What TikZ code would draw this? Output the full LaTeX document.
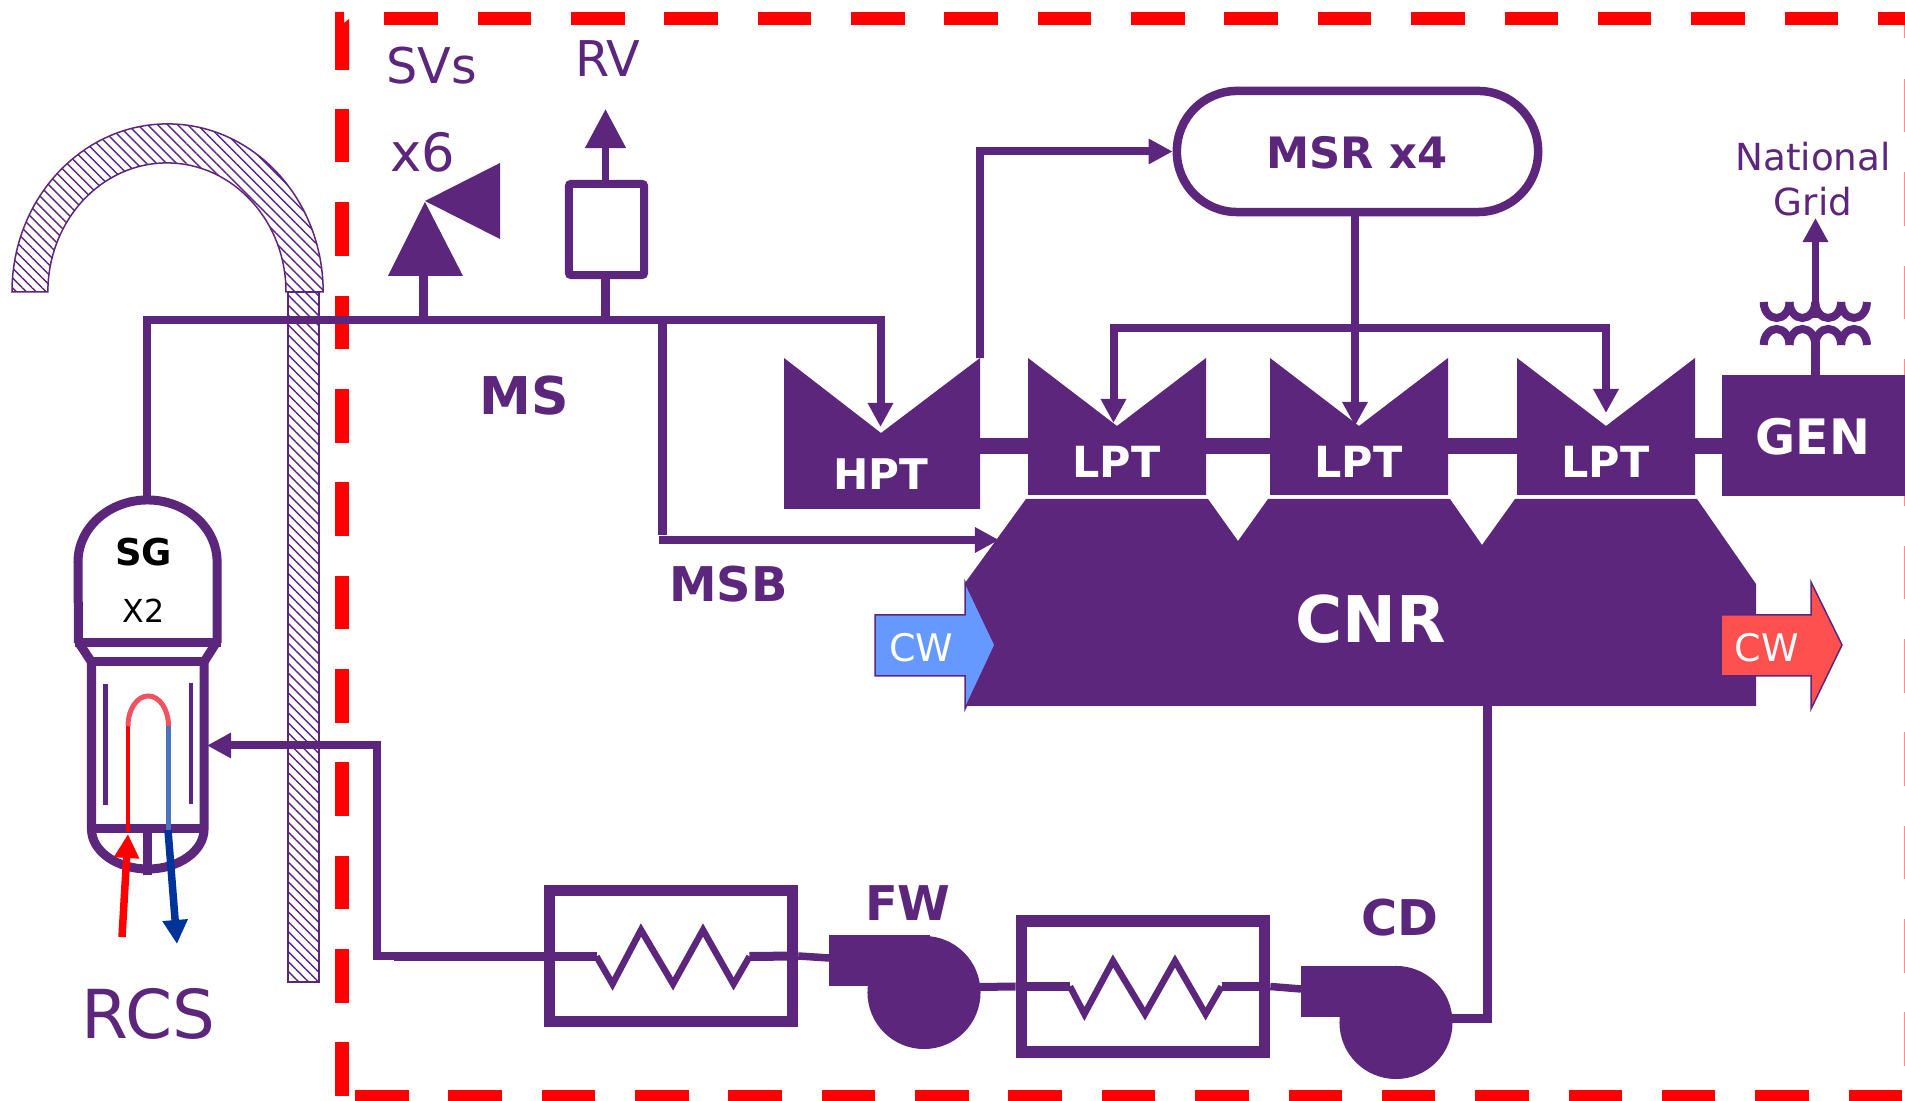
\documentclass[tikz,border=0pt]{standalone}
\usepackage{fontspec}
\setmainfont{DejaVu Sans}
\usetikzlibrary{arrows.meta,patterns.meta}
\definecolor{pur}{HTML}{5C267C}
\definecolor{cwblue}{HTML}{6699FF}
\definecolor{cwred}{HTML}{FF5050}
\definecolor{hotred}{HTML}{FF0000}
\definecolor{coldblue}{HTML}{003399}
\definecolor{tubeblue}{HTML}{4A75BD}
\definecolor{tubered}{HTML}{F2525F}
\newcommand{\fsz}[1]{\fontsize{#1}{#1}\selectfont}
\tikzset{
  pipe/.style={draw=pur,line width=0.08cm},
  vessel/.style={draw=pur,line width=0.09cm},
  hatched/.style={draw=pur,line width=0.015cm,pattern={Lines[angle=-45,distance=2pt,line width=0.4pt]},pattern color=pur},
  tipm/.style={-{Triangle[length=0.24cm,width=0.24cm]}},
  lbl/.style={anchor=base,inner sep=0pt,text=pur,font=\fsz{#1}},
  blbl/.style={anchor=base,inner sep=0pt,text=pur,font=\fsz{#1}\bfseries},
  wlbl/.style={anchor=base,inner sep=0pt,text=white,font=\fsz{#1}\bfseries},
  cwlbl/.style={anchor=base,inner sep=0pt,text=white,font=\fsz{10.8}},
  hxbox/.style={draw=pur,line width=0.115cm,minimum width=2.43cm,minimum height=1.31cm,inner sep=0pt},
  pumpc/.style={circle,fill=pur,minimum size=1.13cm,inner sep=0pt},
  pumpr/.style={rectangle,fill=pur,minimum width=1.01cm,minimum height=0.51cm,inner sep=0pt},
  msrbox/.style={draw=pur,line width=0.085cm,rounded corners=0.6cm,minimum width=3.61cm,minimum height=1.21cm,inner sep=0pt},
  rvbox/.style={draw=pur,line width=0.08cm,rounded corners=0.02cm,minimum width=0.75cm,minimum height=0.91cm,inner sep=0pt},
  dashred/.style={fill=hotred,draw=none},
  dashpale/.style={fill=hotred!45,draw=none}
}
\begin{document}
\begin{tikzpicture}[x=0.01cm,y=-0.01cm]
\useasboundingbox (0,0) rectangle (1905,1101);
\fill[white] (0,0) rectangle (1905,1101);

% containment
\path[hatched] (288,292) rectangle (319,982);
\path[hatched] (12,292) arc[start angle=180,end angle=0,x radius=1.555cm,y radius=1.68cm] -- (286,292) arc[start angle=0,end angle=180,x radius=1.19cm,y radius=1.29cm] -- cycle;

% red dashed boundary
\fill[dashred] (335,12) -- (344,12) -- (344,23) -- (349,19) -- (349,70) -- (335,70) -- cycle;
\foreach \k in {0,...,10}{\fill[dashred] (335,{109+93.35*\k}) rectangle (349,{162.5+93.35*\k});}
\foreach \k in {0,...,16}{\fill[dashred] ({384.3+93.35*\k},12) rectangle ({min(437.8+93.35*\k,1905)},25);}
\foreach \k in {0,...,16}{\fill[dashred] ({355+93.35*\k},1090) rectangle ({min(408.5+93.35*\k,1905)},1101);}
\fill[dashpale] (1904,25) rectangle (1905,38);
\foreach \k in {0,...,10}{\fill[dashpale] (1904,{79+93.35*\k}) rectangle (1905,{132.5+93.35*\k});}

% turbine shaft
\fill[pur] (980,438) rectangle (1722,454);
% turbines
\fill[pur] (784,358) -- (881,433) -- (980,358) -- (980,509) -- (784,509) -- cycle;
\fill[pur] (1028,358) -- (1117,426) -- (1206,358) -- (1206,495) -- (1028,495) -- cycle;
\fill[pur] (1270,358) -- (1359,426) -- (1448,358) -- (1448,495) -- (1270,495) -- cycle;
\fill[pur] (1517,358) -- (1606,426) -- (1695,358) -- (1695,495) -- (1517,495) -- cycle;
% generator
\fill[pur] (1722,375) rectangle (1905,496);
% condenser
\fill[pur] (965,583) -- (1026,499) -- (1208,499) -- (1238,541) -- (1268,499) -- (1450,499) -- (1482,545) -- (1515,499) -- (1697,499) -- (1756,584) -- (1756,706) -- (965,706) -- cycle;

% cooling water arrows
\draw[pur,line width=0.015cm,fill=cwblue] (875,615) -- (965,615) -- (965,582) -- (995,645) -- (965,709) -- (965,676) -- (875,676) -- cycle;
\draw[pur,line width=0.015cm,fill=cwred] (1721,615) -- (1811,615) -- (1811,582) -- (1842,645) -- (1811,709) -- (1811,676) -- (1721,676) -- cycle;
\node[cwlbl] (cw1) at (921.5,662) {CW};
\node[cwlbl] (cw2) at (1767,662) {CW};

% labels on solid shapes
\node[wlbl=12] (hpt) at (881,490) {HPT};
\node[wlbl=12.2] (lpt1) at (1116.5,478) {LPT};
\node[wlbl=12.2] (lpt2) at (1358.5,478) {LPT};
\node[wlbl=12.2] (lpt3) at (1605.5,478) {LPT};
\node[wlbl=13.9] (gen) at (1813,455) {GEN};
\node[wlbl=18.3] (cnr) at (1371,643) {CNR};

% MSR
\node[msrbox] (msr) at (1357.5,151.5) {};
\node[blbl=12.3] (msrl) at (1357,169) {MSR x4};

% steam generator
\draw[vessel] (78.5,643) -- (78,562) arc[start angle=180,end angle=0,x radius=0.695cm,y radius=0.62cm] -- (217,643);
\draw[vessel] (75,643) -- (220.5,643);
\draw[vessel] (79,643) -- (91.5,662);
\draw[vessel] (216,643) -- (204,662);
\draw[vessel] (88,662) -- (208,662);
\draw[vessel] (91.5,662) -- (91.5,829) arc[start angle=180,end angle=360,x radius=0.5625cm,y radius=0.40cm] -- (204,662);
\draw[vessel] (88,829) -- (208,829);
\draw[pur,line width=0.09cm] (147.5,829) -- (147.5,875);
\draw[pur,line width=0.05cm] (105.5,684) -- (105.5,805);
\draw[pur,line width=0.04cm] (191,683) -- (191,804);
\draw[hotred,line width=0.04cm] (128,726) -- (128,832);
\draw[tubeblue,line width=0.048cm] (168.5,725) -- (168.5,830);
\draw[tubered,line width=0.05cm] (128,726) arc[start angle=180,end angle=0,x radius=0.2025cm,y radius=0.30cm];
\coordinate (rcsin) at (122,937);
\coordinate (rcsintip) at (128,834);
\coordinate (rcsout) at (168,830);
\coordinate (rcsouttip) at (177,944);
\draw[hotred,line width=0.075cm,-{Triangle[length=0.24cm,width=0.24cm]}] (rcsin) -- (rcsintip);
\draw[coldblue,line width=0.075cm,-{Triangle[length=0.24cm,width=0.24cm]}] (rcsout) -- (rcsouttip);

% named points
\coordinate (sgtop) at (147,500);
\coordinate (mscorner) at (880.5,320);
\coordinate (svtap) at (423.5,320);
\coordinate (rvtap) at (605.5,320);
\coordinate (hptin) at (880.5,427);
\coordinate (hptout) at (980,358);
\coordinate (msbtop) at (662.5,320);
\coordinate (msbcorner) at (662.5,535);
\coordinate (msbstart) at (659,540);
\coordinate (msbtip) at (999,540);
\coordinate (lpt1in) at (1113.5,423);
\coordinate (lpt2in) at (1355,426);
\coordinate (lpt3in) at (1606,413);
\coordinate (split) at (1355,328);
\coordinate (sgfw) at (207,745.5);
\coordinate (fwcorner) at (377,956.5);

% main steam
\draw[pipe,tipm] (sgtop) |- (mscorner) -- (hptin);
\draw[pipe,line width=0.09cm] (msbtop) -- (msbcorner);
\draw[pipe,tipm] (msbstart) -- (msbtip);
\draw[pipe,tipm] (hptout) |- (msr.west);
\draw[pipe,tipm] (msr.south -| split) -- (lpt2in);
\draw[pipe,tipm] (split) -| (lpt1in);
\draw[pipe,tipm] (split) -| (lpt3in);

% safety valves
\fill[pur] (388,276) -- (425,202) -- (463,276) -- cycle;
\fill[pur] (425,201) -- (500,163) -- (500,239) -- cycle;
\coordinate (svbase) at (423.5,276);
\draw[pipe,line width=0.09cm] (svtap) -- (svbase);

% relief valve
\node[rvbox] (rv) at (606.5,229.5) {};
\coordinate (rvtip) at (605.5,109);
\draw[pipe,line width=0.09cm] (rvtap) -- (rvtap |- rv.south);
\draw[pipe,line width=0.075cm,-{Triangle[length=0.39cm,width=0.39cm]}] (rvtap |- rv.north) -- (rvtip);

% transformer
\foreach \a in {1763.7,1789.5,1815.3,1841.1}{
  \draw[pipe] (\a,302) arc[start angle=180,end angle=360,x radius=0.129cm,y radius=0.16cm];
  \draw[pipe] (\a,345) arc[start angle=180,end angle=0,x radius=0.129cm,y radius=0.16cm];
}
\coordinate (gridtip) at (1815.5,218);
\coordinate (xfmid) at (1815.5,318);
\coordinate (xflow) at (1815.5,342);
\coordinate (xfgen) at (1815.5,375);
\draw[pipe,line width=0.075cm,-{Triangle[length=0.24cm,width=0.24cm]}] (xfmid) -- (gridtip);
\draw[pipe,line width=0.09cm] (xflow) -- (xfgen);

% feedwater train
\node[hxbox] (hx1) at (671,956) {};
\node[hxbox] (hx2) at (1143,986.5) {};
\node[pumpc] (fwc) at (924,992.5) {};
\node[pumpr] (fwr) at (879.5,960.5) {};
\node[pumpc] (cdc) at (1396,1022.5) {};
\node[pumpr] (cdr) at (1351.5,991.5) {};
\coordinate (hx1zs) at (596.5,956.5);
\coordinate (hx1ze) at (749.5,956.5);
\coordinate (hx2zs) at (1070,986.5);
\coordinate (hx2ze) at (1221.5,986.5);
\coordinate (cdout) at (1438,1018.5);
\coordinate (cnrout) at (1487.5,706);
\coordinate (fwin) at (829,958);
\coordinate (cdin) at (1301,989);
\coordinate (thick) at (394,956.5);

\draw[pipe,tipm] (hx1zs) -- (fwcorner) |- (sgfw);
\draw[pipe,line width=0.09cm] (hx1zs) -- (thick);
\draw[pipe,line width=0.09cm] (hx1ze) -- (hx1.east);
\draw[pipe,line width=0.075cm] (hx1.east) -- (fwin);
\draw[pipe,line width=0.065cm,line join=miter] (hx1zs) -- (612.5,984) -- (641,930) -- (673,984) -- (703,930) -- (733.6,984) -- (hx1ze);
\draw[pipe,line width=0.08cm] (980,987) -- (hx2.west);
\draw[pipe,line width=0.09cm] (hx2.west) -- (hx2zs);
\draw[pipe,line width=0.09cm] (hx2ze) -- (hx2.east);
\draw[pipe,line width=0.075cm] (hx2.east) -- (cdin);
\draw[pipe,line width=0.065cm,line join=miter] (hx2zs) -- (1084.4,1014) -- (1113,961) -- (1145,1014) -- (1175,961) -- (1205.6,1014) -- (hx2ze);
\draw[pipe,line width=0.09cm] (cnrout) |- (cdout);

% texts
\node[lbl=14] (svs) at (432,84) {SVs};
\node[lbl=15] (x6) at (423,172) {x6};
\node[lbl=14] (rvl) at (608,77) {RV};
\node[lbl=10.6] (nat) at (1813,171) {National};
\node[lbl=10.6] (grid) at (1813,216) {Grid};
\node[blbl=14.8] (ms) at (524,415) {MS};
\node[blbl=13.6] (msb) at (728.5,602) {MSB};
\node[blbl=13.6] (fw) at (908,921) {FW};
\node[blbl=14] (cd) at (1400,936) {CD};
\node[lbl=19.2] (rcs) at (148.5,1039) {RCS};
\node[anchor=base,inner sep=0pt,text=black,font=\fsz{10.5}\bfseries] (sg) at (143.5,566) {SG};
\node[anchor=base,inner sep=0pt,text=black,font=\fsz{9}] (x2) at (143.5,623) {X2};
\end{tikzpicture}
\end{document}
